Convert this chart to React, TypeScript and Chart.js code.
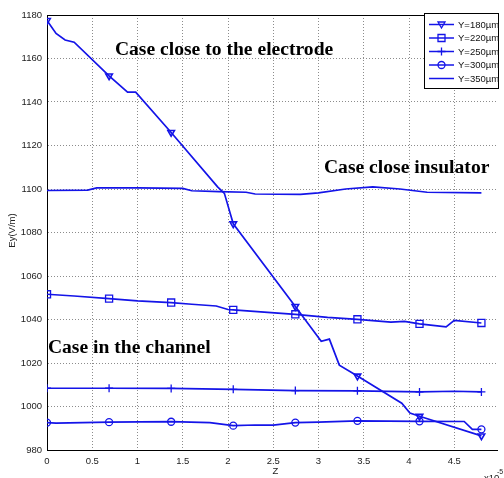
import { useEffect, useRef } from "react";
import { Chart, registerables } from "chart.js";

Chart.register(...registerables);

// Data (z in units of 1e-5 m, Ey in V/m)
const markerZ = [0, 0.686, 1.372, 2.058, 2.744, 3.43, 4.116, 4.8];

const z180 = [0, 0.1, 0.2, 0.3, 0.686, 0.89, 0.98, 1.372, 1.885, 1.96, 2.058, 2.744, 3.03, 3.12, 3.23, 3.43, 3.92, 4.01, 4.116, 4.8];
const e180 = [1177.5, 1171.5, 1168.5, 1167.5, 1152, 1144.5, 1144.5, 1126, 1101, 1098, 1084, 1046, 1030, 1031, 1019, 1014, 1001.5, 997, 995.5, 986.5];

const z220 = [0, 0.3, 0.686, 1.0, 1.372, 1.6, 1.87, 2.0, 2.058, 2.4, 2.744, 3.1, 3.43, 3.8, 3.95, 4.116, 4.41, 4.5, 4.8];
const e220 = [1051.6, 1050.8, 1049.6, 1048.6, 1047.8, 1047, 1046.2, 1044.6, 1044.4, 1043.4, 1042.4, 1041, 1040.1, 1038.8, 1039.1, 1038, 1036.6, 1039.6, 1038.4];

const z250 = [0, 0.686, 1.372, 2.058, 2.744, 3.43, 4.116, 4.5, 4.8];
const e250 = [1008.4, 1008.4, 1008.3, 1007.9, 1007.3, 1007.2, 1006.7, 1007.0, 1006.7];

const z300 = [0, 0.1, 0.686, 1.372, 1.8, 2.058, 2.3, 2.5, 2.744, 3.0, 3.43, 4.116, 4.61, 4.7, 4.8];
const e300 = [992.6, 992.4, 992.8, 993, 992.6, 991.2, 991.5, 991.4, 992.6, 992.8, 993.4, 993.2, 993.1, 989.5, 989.5];

const z350 = [0, 0.45, 0.55, 1.0, 1.5, 1.6, 1.9, 2.2, 2.3, 2.8, 3.0, 3.3, 3.6, 3.9, 4.2, 4.8];
const e350 = [1099.3, 1099.5, 1100.5, 1100.5, 1100.3, 1099.2, 1098.8, 1098.5, 1097.7, 1097.5, 1098.2, 1100, 1101, 1100, 1098.5, 1098.2];

const seriesLabels = ["Y=180\u00b5m", "Y=220\u00b5m", "Y=250\u00b5m", "Y=300\u00b5m", "Y=350\u00b5m"];
const markerStyles = ["tri", "rect", "cross", "circle", "none"];

const xTicks = [0, 0.5, 1, 1.5, 2, 2.5, 3, 3.5, 4, 4.5];
const yMin = 980;
const yMax = 1180;
const yStep = 20;
const xMax = 4.98;

const annotations = [
  { text: "Case close to the electrode", z: 0.75, e: 1164 },
  { text: "Case close insulator", z: 3.06, e: 1109.7 },
  { text: "Case in the channel", z: 0.01, e: 1026.9 },
];

const BLUE = "#1414e8";
const TICK_FONT = "Liberation Sans";

function isMarker(x: number) {
  return markerZ.some((m) => Math.abs(m - x) < 0.005);
}

function drawMarker(ctx: CanvasRenderingContext2D, style: string, x: number, y: number) {
  ctx.beginPath();
  if (style === "tri") {
    ctx.moveTo(x - 3.5, y - 2.5);
    ctx.lineTo(x + 3.5, y - 2.5);
    ctx.lineTo(x, y + 3.5);
    ctx.closePath();
  } else if (style === "rect") {
    ctx.rect(x - 3.5, y - 3.5, 7, 7);
  } else if (style === "cross") {
    ctx.moveTo(x, y - 4);
    ctx.lineTo(x, y + 4);
    ctx.moveTo(x - 4, y);
    ctx.lineTo(x + 4, y);
  } else if (style === "circle") {
    ctx.arc(x, y, 3.5, 0, Math.PI * 2);
  } else {
    return;
  }
  ctx.stroke();
}

const overlayPlugin = {
  id: "overlay",
  afterDraw(chart: any) {
    const { ctx, chartArea, scales } = chart;
    const xs = scales.x;
    const ys = scales.y;
    ctx.save();
    // top border
    ctx.strokeStyle = "#000";
    ctx.lineWidth = 1;
    ctx.beginPath();
    ctx.moveTo(chartArea.left, chartArea.top + 0.5);
    ctx.lineTo(chartArea.right, chartArea.top + 0.5);
    ctx.stroke();

    // annotations
    ctx.fillStyle = "#000";
    ctx.font = "bold 19.6px 'Liberation Serif'";
    ctx.textBaseline = "middle";
    ctx.textAlign = "left";
    for (const a of annotations) {
      ctx.fillText(a.text, xs.getPixelForValue(a.z), ys.getPixelForValue(a.e));
    }

    // legend
    const bx = 424, by = 13, bw = 74, bh = 75;
    ctx.fillStyle = "#fff";
    ctx.fillRect(bx, by, bw, bh);
    ctx.strokeStyle = "#000";
    ctx.lineWidth = 1;
    ctx.strokeRect(bx + 0.5, by + 0.5, bw, bh);
    ctx.font = `9.5px '${TICK_FONT}'`;
    ctx.textBaseline = "middle";
    for (let i = 0; i < seriesLabels.length; i++) {
      const y = 24.5 + i * 13.5;
      ctx.strokeStyle = BLUE;
      ctx.lineWidth = 1.5;
      ctx.beginPath();
      ctx.moveTo(429, y);
      ctx.lineTo(454, y);
      ctx.stroke();
      ctx.lineWidth = 1.3;
      drawMarker(ctx, markerStyles[i], 441.5, y);
      ctx.fillStyle = "#111";
      ctx.fillText(seriesLabels[i], 458, y + 0.5);
    }

    // axis titles
    ctx.fillStyle = "#222";
    ctx.font = `9.5px '${TICK_FONT}'`;
    ctx.textAlign = "center";
    ctx.textBaseline = "middle";
    ctx.fillText("Z", (chartArea.left + chartArea.right) / 2 + 3, 471);
    ctx.save();
    ctx.translate(12, (chartArea.top + chartArea.bottom) / 2 - 2);
    ctx.rotate(-Math.PI / 2);
    ctx.fillText("Ey(V/m)", 0, 0);
    ctx.restore();

    // exponent
    ctx.textAlign = "left";
    ctx.textBaseline = "top";
    ctx.fillText("x10", 484, 474);
    ctx.font = `7px '${TICK_FONT}'`;
    ctx.fillText("-5", 497, 469);
    ctx.restore();
  },
};

function makeDataset(label: string, z: number[], e: number[], style: string) {
  const pointStyle = style === "tri" ? "triangle" : style === "rect" ? "rect" : style === "cross" ? "cross" : "circle";
  const radius = style === "tri" ? 3.8 : style === "rect" ? 5 : style === "cross" ? 4 : style === "circle" ? 3.5 : 0;
  return {
    label,
    data: z.map((x, i) => ({ x, y: e[i] })),
    borderColor: BLUE,
    backgroundColor: "rgba(0,0,0,0)",
    borderWidth: 1.7,
    tension: 0,
    pointStyle,
    pointRotation: style === "tri" ? 180 : 0,
    pointBorderColor: BLUE,
    pointBackgroundColor: "rgba(0,0,0,0)",
    pointBorderWidth: style === "tri" ? 1.6 : 1.3,
    pointRadius: (c: any) => (radius > 0 && c.raw && isMarker(c.raw.x) ? radius : 0),
    pointHoverRadius: 0,
  };
}

export default function App() {
  const ref = useRef<HTMLCanvasElement | null>(null);
  useEffect(() => {
    if (!ref.current) return;
    const chart = new Chart(ref.current, {
      type: "line",
      data: {
        datasets: [
          makeDataset(seriesLabels[0], z180, e180, markerStyles[0]),
          makeDataset(seriesLabels[1], z220, e220, markerStyles[1]),
          makeDataset(seriesLabels[2], z250, e250, markerStyles[2]),
          makeDataset(seriesLabels[3], z300, e300, markerStyles[3]),
          makeDataset(seriesLabels[4], z350, e350, markerStyles[4]),
        ] as any,
      },
      options: {
        responsive: false,
        animation: false,
        devicePixelRatio: 1,
        layout: { padding: { top: 15, right: 0, left: 0, bottom: 0 } },
        plugins: { legend: { display: false }, tooltip: { enabled: false } },
        events: [],
        scales: {
          x: {
            type: "linear",
            min: 0,
            max: xMax,
            afterFit: (s: any) => {
              s.height = 28;
            },
            afterBuildTicks: (s: any) => {
              s.ticks = xTicks.map((v) => ({ value: v }));
            },
            ticks: {
              color: "#222",
              font: { family: TICK_FONT, size: 9.5 },
              padding: 6,
              maxRotation: 0,
              autoSkip: false,
              callback: (v: any) => String(v),
            },
            grid: { color: "#8c8c8c", lineWidth: 1, drawTicks: false },
            border: { display: true, color: "#000", width: 1, dash: [1, 2] },
          },
          y: {
            type: "linear",
            min: yMin,
            max: yMax,
            afterFit: (s: any) => {
              s.width = 47;
            },
            ticks: {
              stepSize: yStep,
              color: "#222",
              font: { family: TICK_FONT, size: 9.5 },
              padding: 5,
              autoSkip: false,
              callback: (v: any) => String(v),
            },
            grid: { color: "#8c8c8c", lineWidth: 1, drawTicks: false },
            border: { display: true, color: "#000", width: 1, dash: [1, 2] },
          },
        },
      },
      plugins: [overlayPlugin],
    });
    return () => chart.destroy();
  }, []);
  return (
    <div style={{ position: "fixed", left: 0, top: 0, width: 504, height: 478, background: "#fff" }}>
      <canvas ref={ref} width={504} height={478} style={{ width: 504, height: 478, display: "block" }} />
    </div>
  );
}
